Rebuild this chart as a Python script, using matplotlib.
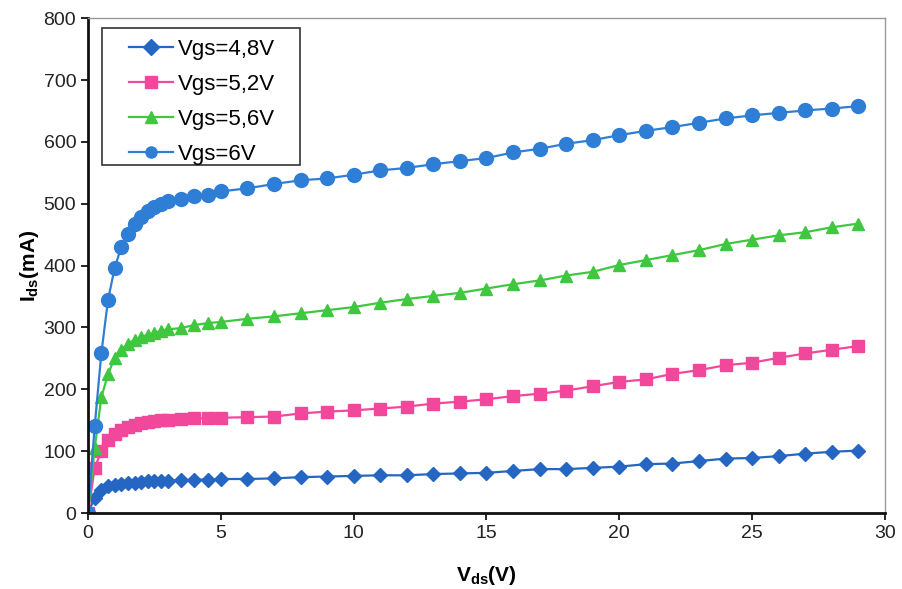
import matplotlib
matplotlib.use('Agg')
import matplotlib.pyplot as plt
from matplotlib.patches import Rectangle

plt.rcParams['font.family'] = ['Liberation Sans', 'DejaVu Sans']
plt.rcParams['mathtext.fontset'] = 'custom'
plt.rcParams['mathtext.rm'] = 'Liberation Sans'
plt.rcParams['mathtext.bf'] = 'Liberation Sans:bold'

# drain voltage points (V)
vds = [0, 0.25, 0.5, 0.75, 1.0, 1.25, 1.5, 1.75, 2.0, 2.25, 2.5, 2.75, 3.0,
       3.5, 4.0, 4.5, 5.0,
       6, 7, 8, 9, 10, 11, 12, 13, 14, 15, 16, 17, 18, 19, 20,
       21, 22, 23, 24, 25, 26, 27, 28, 29]

# drain current (mA) for each gate voltage
ids_48 = [0, 25, 38, 43, 46, 47, 48, 49, 50, 51, 51, 52, 52,
          53, 54, 54, 55,
          55, 56, 58, 59, 60, 61, 61, 63, 64, 65, 68, 71, 71, 73, 75,
          79, 80, 84, 88, 89, 92, 96, 99, 101]
ids_52 = [0, 73, 100, 118, 128, 134, 139, 142, 145, 147, 149, 150, 151,
          152, 153, 153, 154,
          155, 156, 161, 164, 166, 169, 172, 177, 180, 184, 189, 193, 198, 205, 212,
          216, 225, 231, 239, 243, 251, 258, 264, 270]
ids_56 = [0, 105, 187, 224, 251, 264, 274, 280, 285, 288, 291, 295, 297,
          299, 304, 307, 309,
          314, 318, 323, 328, 333, 340, 346, 351, 356, 363, 370, 376, 384, 390, 401,
          409, 417, 425, 435, 442, 449, 454, 462, 468]
ids_60 = [0, 140, 258, 344, 396, 430, 451, 467, 479, 488, 495, 500, 504,
          508, 512, 515, 520,
          525, 532, 538, 541, 547, 554, 558, 564, 569, 574, 583, 589, 597, 603, 611,
          618, 624, 631, 638, 643, 647, 651, 654, 658]

labels = ['Vgs=4,8V', 'Vgs=5,2V', 'Vgs=5,6V', 'Vgs=6V']

fig = plt.figure(figsize=(9.03, 5.89), dpi=100)
ax = fig.add_axes([0.0975, 0.129, 0.8825, 0.84])

ax.plot(vds, ids_48, '-D', color='#2566c2', ms=7, lw=1.6, label=labels[0])
ax.plot(vds, ids_52, '-s', color='#f2489c', ms=8.5, lw=1.6, label=labels[1])
ax.plot(vds, ids_56, '-^', color='#3fc73f', ms=9, lw=1.6, label=labels[2])
ax.plot(vds, ids_60, '-o', color='#2f7ed6', ms=10, lw=1.6, label=labels[3])

ax.set_xlim(0, 30)
ax.set_ylim(0, 800)
ax.set_xticks(range(0, 31, 5))
ax.set_yticks(range(0, 801, 100))
ax.tick_params(direction='out', length=5, width=1.2, labelsize=14,
               labelcolor='#222222')

for s in ['left', 'bottom']:
    ax.spines[s].set_linewidth(2)
    ax.spines[s].set_color('#111111')
for s in ['top', 'right']:
    ax.spines[s].set_linewidth(1)
    ax.spines[s].set_color('#999999')

ax.set_xlabel(r'$\mathbf{V_{ds}(V)}$', fontsize=15, labelpad=16)
ax.set_ylabel(r'$\mathbf{I_{ds}(mA)}$', fontsize=15, labelpad=2)

# legend box drawn separately: wide side padding, tight top/bottom
ax.add_patch(Rectangle((0.0176, 0.703), 0.2484, 0.277, transform=ax.transAxes,
                       facecolor='white', edgecolor='#333333', lw=1.2, zorder=4))
leg = ax.legend(loc='upper left', bbox_to_anchor=(0.0514, 0.958), borderaxespad=0,
                fontsize=16, handlelength=2.0, handletextpad=0.2,
                frameon=False, labelspacing=0.63, borderpad=0)
leg.set_zorder(5)
for h in leg.legend_handles:
    h.set_markersize(8)

plt.savefig('out.png')
